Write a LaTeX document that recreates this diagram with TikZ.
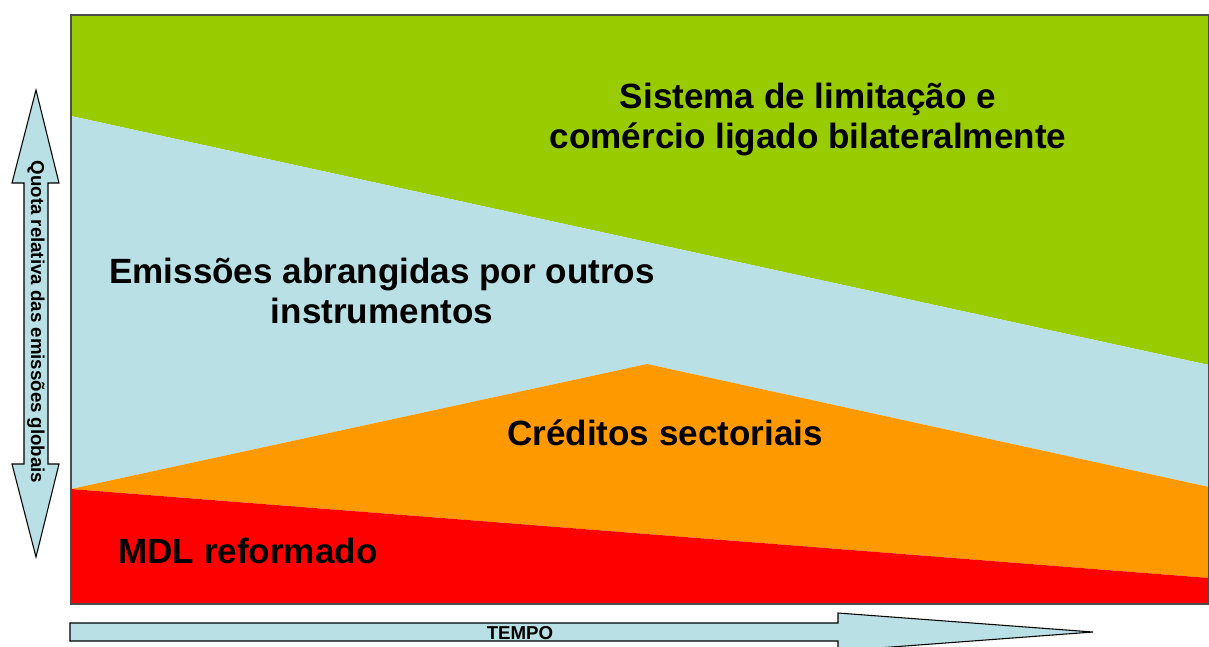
\documentclass[tikz,border=0pt]{standalone}
\usepackage{fontspec}
\setmainfont{Liberation Sans}
\definecolor{limagreen}{HTML}{99CC00}
\definecolor{paleblue}{HTML}{B9E0E4}
\definecolor{laranja}{HTML}{FF9900}
\definecolor{vermelho}{HTML}{FF0000}

\begin{document}
\begin{tikzpicture}[x=0.75pt, y=-0.75pt,
  big/.style = {font=\fontsize{26.3}{30}\selectfont\bfseries, align=center, inner sep=0pt},
  small/.style = {font=\fontsize{14}{16}\selectfont\bfseries, inner sep=0pt},
  arrowbox/.style = {fill=paleblue, draw=black, line width=0.8pt, line join=miter}]
\useasboundingbox (0,0) rectangle (1209,646);
\fill[limagreen] (71,15) -- (1209,15) -- (1209,365) -- (71,116) -- cycle;
\fill[paleblue] (71,116) -- (1209,365) -- (1209,487) -- (647,364) -- (71,489) -- cycle;
\fill[laranja] (71,489) -- (647,364) -- (1209,487) -- (1209,578) -- cycle;
\fill[vermelho] (71,489) -- (1209,578) -- (1209,604) -- (71,604) -- cycle;
\draw[black!70, line width=1pt] (71,15) rectangle (1209,604);
\draw[arrowbox] (36,90) -- (59,183) -- (48,183) -- (48,464) -- (59,464) -- (36,557)
  -- (12,464) -- (24,464) -- (24,183) -- (12,183) -- cycle;
\draw[arrowbox] (70,623) -- (838,623) -- (838,613) -- (1093,632) -- (838,651)
  -- (838,641) -- (70,641) -- cycle;
\node[big] (sistema) at (808,120) {Sistema de limitação e\\comércio ligado bilateralmente};
\node[big] (emissoes) at (382,291) {Emissões abrangidas por outros\\instrumentos};
\node[big] (creditos) at (665,433) {Créditos sectoriais};
\node[big] (mdl) at (248,551) {MDL reformado};
\node[small, rotate=-90] (quota) at (36,322) {Quota relativa das emissões globais};
\node[small] (tempo) at (520,633) {TEMPO};
\end{tikzpicture}
\end{document}
